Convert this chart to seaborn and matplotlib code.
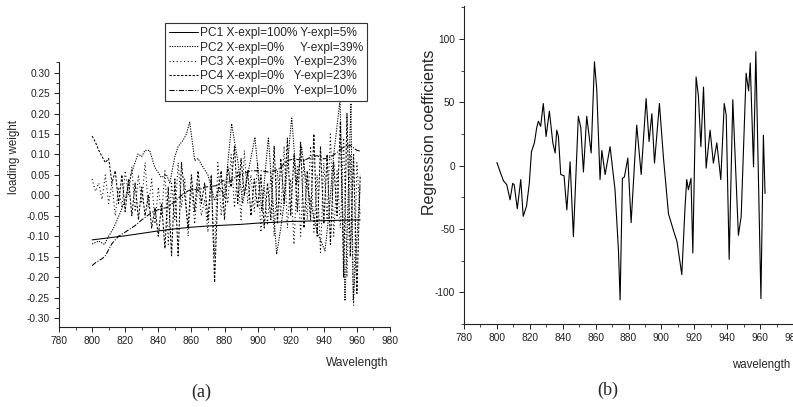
import matplotlib
matplotlib.use("Agg")
import matplotlib.pyplot as plt
import seaborn as sns
import pandas as pd
from matplotlib.ticker import MultipleLocator, FormatStrFormatter

# ---------------- data: panel (a) loading weights ----------------
pc1_wl = [800, 810, 820, 830, 840, 850, 860, 870, 880, 890, 900, 910, 920, 930, 940, 950, 962]
pc1_val = [-0.109, -0.104, -0.099, -0.093, -0.087, -0.082, -0.078, -0.075, -0.073, -0.071,
           -0.068, -0.066, -0.064, -0.063, -0.062, -0.061, -0.060]

pc2_wl = [800, 804, 807.5, 809.6, 813, 817.6, 820, 823.6, 827.7, 830, 832, 834.8, 837.8, 841.8,
          845, 847, 849.9, 852, 854.9, 857, 859, 862, 864, 867, 870, 874, 877, 880, 884.3, 888,
          891, 894, 898.4, 902.5, 906.5, 909, 911.5, 914, 916, 920.6, 923.6, 926.6, 929, 932.7,
          936, 940.7, 943, 946, 949.8, 952.8, 956.4, 957.8, 961.9]
pc2_val = [-0.119, -0.112, -0.12, -0.103, -0.08, -0.037, -0.01, 0.052, 0.101, 0.095, 0.11, 0.11,
           0.069, 0.044, 0.05, 0.03, 0.093, 0.12, 0.134, 0.15, 0.179, 0.085, 0.09, 0.069, 0.05,
           -0.013, 0.02, -0.005, 0.175, 0.085, -0.02, 0.05, 0.142, -0.037, 0.142, 0.0, -0.144,
           -0.08, -0.02, 0.191, 0.028, 0.118, 0.04, -0.029, -0.09, -0.136, -0.05, 0.1, 0.232,
           -0.258, 0.225, -0.258, 0.024]

pc3_wl = list(range(800, 963, 2))
pc3_val = [0.04, 0.01, 0.03, -0.01, 0.05, -0.02, 0.03, -0.05, 0.02, -0.03, 0.06, 0.0, 0.07,
           -0.04, 0.05, -0.02, 0.08, -0.03, 0.04, -0.07, 0.02, -0.05, 0.06, -0.12, 0.03, -0.06,
           0.08, -0.03, 0.04, -0.10, 0.02, -0.07, 0.03, -0.05, -0.01, -0.09, 0.04, -0.15, 0.08,
           -0.05, 0.03, -0.02, 0.10, -0.03, 0.06, -0.06, 0.11, -0.02, 0.05, -0.04, 0.08, -0.09,
           0.02, -0.07, 0.05, -0.10, 0.06, -0.05, 0.12, -0.08, 0.04, -0.12, 0.07, -0.10, 0.09,
           -0.06, 0.12, -0.09, 0.05, -0.14, 0.08, -0.06, 0.15, -0.10, 0.06, -0.08, 0.14, -0.20,
           0.10, -0.27, 0.08, -0.05]

pc4_wl = list(range(800, 963, 2))
pc4_val = [0.145, 0.13, 0.11, 0.095, 0.08, 0.09, 0.03, 0.06, -0.02, 0.05, -0.04, 0.04, -0.05,
           0.03, -0.06, 0.02, -0.05, 0.0, -0.08, -0.03, -0.10, -0.02, -0.13, 0.02, -0.148, 0.04,
           -0.148, 0.08, 0.0, -0.08, 0.05, -0.04, 0.06, -0.02, 0.03, -0.06, 0.05, -0.213, 0.01,
           0.06, -0.06, 0.07, 0.02, 0.12, -0.02, 0.09, 0.0, 0.06, -0.05, 0.04, -0.03, 0.05,
           -0.08, 0.03, -0.06, 0.12, -0.07, 0.09, -0.02, 0.14, -0.05, 0.10, -0.04, 0.13, -0.08,
           0.06, -0.06, 0.15, -0.10, 0.12, -0.07, 0.10, -0.12, 0.08, -0.05, 0.18, -0.20, 0.20,
           -0.15, 0.10, -0.24, 0.05]

pc5_wl = [800, 802, 806, 808, 812, 816, 820, 826, 830, 836, 840, 846, 850, 854, 858, 861, 864,
          868, 872, 876, 879, 882, 888, 896, 902, 908, 913, 918, 922, 928, 932, 936, 940, 944,
          948, 952, 956, 960, 962]
pc5_val = [-0.172, -0.165, -0.155, -0.148, -0.118, -0.10, -0.09, -0.074, -0.06, -0.042, -0.035,
           -0.029, -0.015, 0.0, 0.011, 0.016, 0.012, 0.02, 0.022, 0.024, 0.036, 0.032, 0.048,
           0.06, 0.06, 0.056, 0.065, 0.085, 0.089, 0.085, 0.093, 0.097, 0.089, 0.093, 0.105,
           0.118, 0.122, 0.11, 0.108]

legend_labels = ["PC1 X-expl=100% Y-expl=5%",
                 "PC2 X-expl=0%     Y-expl=39%",
                 "PC3 X-expl=0%   Y-expl=23%",
                 "PC4 X-expl=0%   Y-expl=23%",
                 "PC5 X-expl=0%   Y-expl=10%"]

# ---------------- data: panel (b) regression coefficients ----------------
rc_wl = [800, 802, 804, 806, 808, 809.6, 810.5, 812.4, 814.5, 816, 818, 819.7, 821, 822.8, 824.2,
         825.2, 826.6, 828.2, 829.9, 831.9, 834, 835.4, 836.4, 837.4, 838.8, 840.8, 842.5, 844.5,
         846.5, 849.5, 851, 852.6, 854.6, 857.3, 859.3, 860.7, 862.7, 863.8, 865.8, 868.8, 871.8,
         873.9, 874.9, 876.3, 877.5, 879.6, 881.6, 885, 887.7, 890.7, 892.5, 894.2, 895.8, 898.8,
         901.2, 904.3, 907.3, 909.5, 912.4, 914.4, 915.4, 916.4, 918, 919.1, 921.1, 922.5, 924,
         925.6, 927.2, 929.6, 931.6, 933.7, 936.1, 938.2, 939.4, 941.2, 943.4, 946.8, 948.5,
         951.5, 953, 954, 956, 957.4, 960.5, 962, 963]
rc_val = [2.5, -5, -12, -15, -27, -14, -15, -34, -11, -40, -32, -14, 11, 18, 30, 35, 31, 49, 23,
          43, 18, 10, 28, 23, -7, -8, -35, 3, -56, 39, 30, -5, 39, 10, 82, 60, -11, 12, -7, 15,
          -19, -67, -106, -10, -9, 6, -45, 32, -7, 53, 19, 41, 2, 49, 7, -38, -51, -60, -86, -32,
          -11, -19, -10, -69, 70, 55, 15, 62, -2, 28, 2, 18, -11, 49, 40, -74, 52, -55, -40, 73,
          59, 81, -1, 90, -105, 24, -22]

x_ticks = list(range(780, 981, 20))

# ---------------- styling ----------------
sns.set_theme(style="ticks")
plt.rcParams["font.family"] = ["Liberation Sans", "DejaVu Sans"]
plt.rcParams["axes.unicode_minus"] = False

W, H = 793, 407
fig = plt.figure(figsize=(W / 100, H / 100), dpi=100)
fig.patch.set_facecolor("white")


def axes_px(l, t, r, b):
    return fig.add_axes([l / W, 1 - b / H, (r - l) / W, (b - t) / H])


axL = axes_px(59, 62, 390, 327)
axR = axes_px(464, 6, 793, 324)

styles = ["-", (0, (1.2, 1.2)), (0, (1, 2.5)), (0, (2.2, 1.5)), (0, (5, 1.5, 1, 1.5))]
series = [(pc1_wl, pc1_val), (pc2_wl, pc2_val), (pc3_wl, pc3_val), (pc4_wl, pc4_val),
          (pc5_wl, pc5_val)]
handles = []
for (wl, val), ls, lab in zip(series, styles, legend_labels):
    assert len(wl) == len(val)
    df = pd.DataFrame({"wl": wl, "v": val})
    sns.lineplot(data=df, x="wl", y="v", ax=axL, color="black", linewidth=0.75,
                 linestyle=ls, estimator=None, sort=False)
    handles.append(axL.lines[-1])

assert len(rc_wl) == len(rc_val)
dfr = pd.DataFrame({"wl": rc_wl, "c": rc_val})
sns.lineplot(data=dfr, x="wl", y="c", ax=axR, color="black", linewidth=0.8,
             estimator=None, sort=False)

for ax in (axL, axR):
    for s in ("top", "right"):
        ax.spines[s].set_visible(False)
    for s in ("left", "bottom"):
        ax.spines[s].set_color("#222222")
        ax.spines[s].set_linewidth(0.8)
    ax.set_xlim(780, 980)
    ax.set_xticks(x_ticks)
    ax.xaxis.set_minor_locator(MultipleLocator(10))
    ax.tick_params(which="major", direction="out", length=3.5, width=0.7, colors="#222222",
                   labelsize=7.3, pad=3)
    ax.tick_params(which="minor", direction="out", length=2.5, width=0.6, colors="#222222")
    ax.grid(False)
    ax.set_facecolor("white")

axL.set_ylim(-0.322, 0.326)
axL.set_yticks([-0.30, -0.25, -0.20, -0.15, -0.10, -0.05, 0.0, 0.05, 0.10, 0.15, 0.20, 0.25, 0.30])
axL.yaxis.set_minor_locator(MultipleLocator(0.025))
axL.yaxis.set_major_formatter(FormatStrFormatter("%.2f"))

axR.set_ylim(-125, 126)
axR.set_yticks([-100, -50, 0, 50, 100])
axR.yaxis.set_minor_locator(MultipleLocator(25))

axL.set_ylabel("loading weight", fontsize=8.3, va="center")
axL.yaxis.set_label_coords((14 - 59) / 331, (327 - 157) / 265)
axL.set_xlabel("Wavelength", fontsize=8.6, ha="right", va="center")
axL.xaxis.set_label_coords((388 - 59) / 331, (327 - 363) / 265)

axR.set_ylabel("Regression coefficients", fontsize=11.5, va="center")
axR.yaxis.set_label_coords((430 - 464) / 329, (324 - 132) / 318)
axR.set_xlabel("wavelength", fontsize=8.3, ha="right", va="center")
axR.xaxis.set_label_coords((790 - 464) / 329, (324 - 365) / 318)

leg = fig.legend(handles, legend_labels, loc="upper left",
                 bbox_to_anchor=(165 / W, 1 - 23 / H), bbox_transform=fig.transFigure,
                 fontsize=8.6, frameon=True, fancybox=False, edgecolor="#333333",
                 framealpha=1, borderpad=0.35, labelspacing=0.2, handlelength=2.4,
                 handletextpad=0.15, borderaxespad=0)
leg.get_frame().set_linewidth(0.8)

serif = ["Liberation Serif", "DejaVu Serif"]
fig.text(201 / W, 1 - 392 / H, "(a)", ha="center", va="center", family=serif, fontsize=13)
fig.text(608 / W, 1 - 390 / H, "(b)", ha="center", va="center", family=serif, fontsize=13)

fig.savefig("out.png", dpi=100)
